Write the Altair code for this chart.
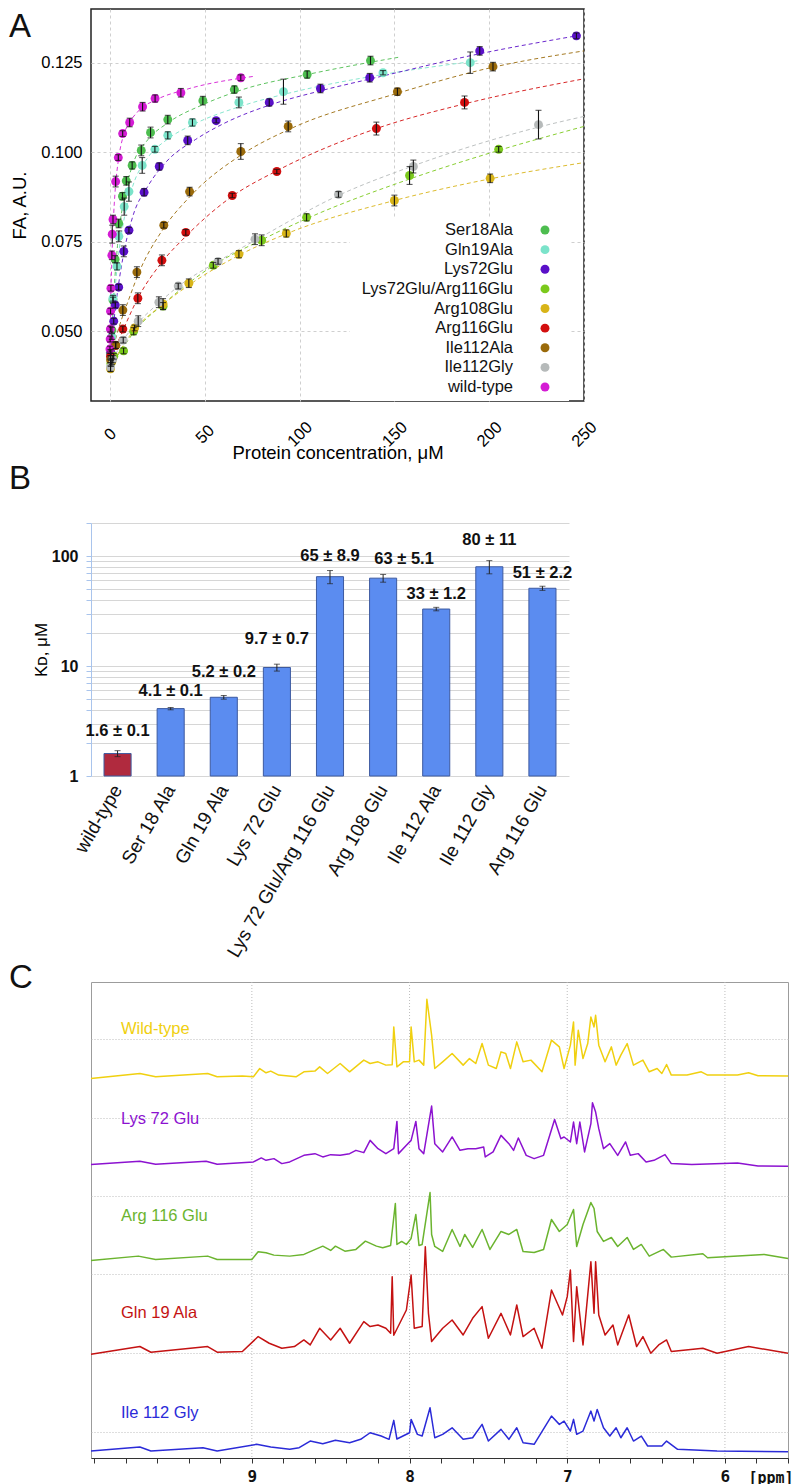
import altair as alt
import pandas as pd

FONT = "Liberation Sans"
MONO = "DejaVu Sans Mono"

# ======================= Panel A : fluorescence anisotropy titrations =======================
a_series = ["Ser18Ala", "Gln19Ala", "Lys72Glu", "Lys72Glu/Arg116Glu", "Arg108Glu",
            "Arg116Glu", "Ile112Ala", "Ile112Gly", "wild-type"]
a_colors = ["#4dbd4f", "#7be3ca", "#5a10c8", "#7bc91c", "#d8b418",
            "#d30f0f", "#9a6a0a", "#b6baba", "#d41cd4"]
a_xticks = [0, 50, 100, 150, 200, 250]
a_yticks = [0.050, 0.075, 0.100, 0.125]

# measured points: concentration (uM), FA, error
ser18ala_x = [0.2, 1.0, 1.6, 2.7, 4.6, 6.6, 8.6, 11.7, 16.5, 21.4, 30.5, 49.0, 65.6, 104.0, 137.4]
ser18ala_y = [0.0440, 0.0503, 0.0587, 0.0701, 0.0801, 0.0877, 0.0920, 0.0963, 0.1005, 0.1055, 0.1091, 0.1144, 0.1175, 0.1217, 0.1256]
ser18ala_e = [0.0008, 0.0008, 0.0008, 0.0010, 0.0012, 0.0010, 0.0012, 0.0010, 0.0015, 0.0015, 0.0012, 0.0012, 0.0010, 0.0010, 0.0012]

gln19ala_x = [0.3, 1.0, 1.6, 3.7, 4.7, 7.5, 10.0, 17.0, 23.7, 30.5, 43.5, 68.0, 91.5, 144.0, 190.0]
gln19ala_y = [0.0430, 0.0485, 0.0592, 0.0681, 0.0765, 0.0848, 0.0890, 0.0963, 0.1008, 0.1047, 0.1083, 0.1139, 0.1169, 0.1222, 0.1250]
gln19ala_e = [0.0008, 0.0008, 0.0008, 0.0010, 0.0015, 0.0024, 0.0027, 0.0022, 0.0008, 0.0010, 0.0010, 0.0015, 0.0035, 0.0006, 0.0030]

lys72glu_x = [0.5, 2.0, 2.8, 4.6, 7.3, 10.0, 18.0, 26.0, 41.0, 56.0, 84.0, 111.0, 137.0, 195.0, 246.0]
lys72glu_y = [0.0440, 0.0528, 0.0573, 0.0623, 0.0723, 0.0782, 0.0888, 0.0960, 0.1033, 0.1088, 0.1139, 0.1178, 0.1208, 0.1283, 0.1325]
lys72glu_e = [0.0008, 0.0008, 0.0008, 0.0008, 0.0015, 0.0008, 0.0010, 0.0010, 0.0012, 0.0006, 0.0010, 0.0012, 0.0012, 0.0012, 0.0008]

k72e_r116e_x = [0.5, 2.0, 7.2, 12.5, 28.0, 54.5, 80.0, 103.7, 158.0, 205.0]
k72e_r116e_y = [0.0410, 0.0430, 0.0445, 0.0500, 0.0570, 0.0684, 0.0754, 0.0818, 0.0935, 0.1008]
k72e_r116e_e = [0.0008, 0.0008, 0.0008, 0.0010, 0.0010, 0.0008, 0.0015, 0.0010, 0.0025, 0.0008]

arg108glu_x = [0.3, 1.0, 13.0, 28.0, 41.6, 68.0, 93.0, 150.0, 200.5]
arg108glu_y = [0.0395, 0.0415, 0.0509, 0.0576, 0.0634, 0.0715, 0.0773, 0.0865, 0.0927]
arg108glu_e = [0.0008, 0.0008, 0.0008, 0.0015, 0.0012, 0.0010, 0.0010, 0.0015, 0.0012]

arg116glu_x = [0.3, 3.0, 6.8, 14.7, 27.4, 40.0, 64.5, 88.0, 140.5, 187.0]
arg116glu_y = [0.0430, 0.0460, 0.0506, 0.0592, 0.0698, 0.0776, 0.0879, 0.0946, 0.1066, 0.1139]
arg116glu_e = [0.0008, 0.0008, 0.0008, 0.0015, 0.0015, 0.0008, 0.0006, 0.0006, 0.0018, 0.0018]

ile112ala_x = [0.3, 3.0, 6.8, 14.2, 28.4, 42.0, 69.0, 94.0, 151.6, 202.0]
ile112ala_y = [0.0420, 0.0461, 0.0559, 0.0665, 0.0796, 0.0890, 0.1002, 0.1072, 0.1169, 0.1239]
ile112ala_e = [0.0008, 0.0010, 0.0015, 0.0015, 0.0008, 0.0012, 0.0022, 0.0015, 0.0010, 0.0012]

ile112gly_x = [0.3, 1.5, 7.0, 14.9, 25.8, 36.0, 57.0, 76.5, 120.5, 160.0, 226.0]
ile112gly_y = [0.0400, 0.0422, 0.0475, 0.0528, 0.0581, 0.0626, 0.0695, 0.0757, 0.0882, 0.0960, 0.1077]
ile112gly_e = [0.0012, 0.0010, 0.0008, 0.0015, 0.0015, 0.0008, 0.0008, 0.0015, 0.0008, 0.0018, 0.0040]

wt_x = [0.0, 0.1, 0.2, 0.3, 0.5, 1.0, 1.2, 1.6, 3.0, 4.4, 6.7, 10.4, 17.2, 23.8, 37.4, 69.0]
wt_y = [0.0450, 0.0478, 0.0506, 0.0556, 0.0620, 0.0712, 0.0771, 0.0812, 0.0918, 0.0985, 0.1052, 0.1083, 0.1127, 0.1150, 0.1166, 0.1208]
wt_e = [0.0008, 0.0008, 0.0008, 0.0008, 0.0008, 0.0012, 0.0025, 0.0012, 0.0015, 0.0008, 0.0008, 0.0012, 0.0012, 0.0010, 0.0012, 0.0008]

# fitted (dashed) binding curves
ser18ala_fx = [0, 1, 2, 4, 7, 12, 20, 30, 50, 70, 105, 152]
ser18ala_fy = [0.042, 0.050, 0.060, 0.074, 0.086, 0.0965, 0.1035, 0.108, 0.1135, 0.1175, 0.1218, 0.1265]
gln19ala_fx = [0, 1, 2, 4, 7, 12, 20, 30, 45, 70, 100, 145, 195]
gln19ala_fy = [0.042, 0.049, 0.057, 0.069, 0.080, 0.0905, 0.0985, 0.1035, 0.108, 0.1130, 0.1172, 0.1218, 0.1256]
lys72glu_fx = [0, 3, 7, 12, 20, 30, 45, 60, 85, 110, 140, 195, 246]
lys72glu_fy = [0.042, 0.057, 0.071, 0.082, 0.0905, 0.0975, 0.1035, 0.108, 0.1133, 0.117, 0.1208, 0.1275, 0.1325]
k72e_r116e_fx = [0, 7, 13, 28, 55, 80, 104, 158, 205, 250]
k72e_r116e_fy = [0.040, 0.0455, 0.050, 0.0575, 0.0685, 0.0755, 0.0815, 0.0925, 0.1005, 0.1072]
arg108glu_fx = [0, 13, 28, 42, 68, 93, 150, 200, 250]
arg108glu_fy = [0.040, 0.0505, 0.0575, 0.063, 0.0712, 0.0772, 0.0865, 0.0925, 0.0971]
arg116glu_fx = [0, 5, 15, 27, 40, 64, 88, 140, 187, 250]
arg116glu_fy = [0.042, 0.048, 0.0595, 0.069, 0.0765, 0.0875, 0.0948, 0.1065, 0.1135, 0.1205]
ile112ala_fx = [0, 5, 10, 15, 28, 42, 70, 95, 150, 200, 250]
ile112ala_fy = [0.042, 0.0515, 0.059, 0.066, 0.0785, 0.0875, 0.0995, 0.1065, 0.1162, 0.1235, 0.1283]
ile112gly_fx = [0, 7, 15, 26, 36, 57, 77, 120, 160, 226, 250]
ile112gly_fy = [0.040, 0.0475, 0.0525, 0.058, 0.0625, 0.0695, 0.0755, 0.0878, 0.0962, 0.107, 0.110]
wt_fx = [0, 0.5, 1, 2, 3, 4.5, 7, 10, 15, 25, 40, 76]
wt_fy = [0.042, 0.060, 0.070, 0.083, 0.091, 0.098, 0.1045, 0.108, 0.1115, 0.1148, 0.1175, 0.1212]

# ======================= Panel B : dissociation constants =======================
kd_mutants = ["wild-type", "Ser 18 Ala", "Gln 19 Ala", "Lys 72 Glu", "Lys 72 Glu/Arg 116 Glu",
              "Arg 108 Glu", "Ile 112 Ala", "Ile 112 Gly", "Arg 116 Glu"]
kd_values = [1.6, 4.1, 5.2, 9.7, 65, 63, 33, 80, 51]
kd_errors = [0.1, 0.1, 0.2, 0.7, 8.9, 5.1, 1.2, 11, 2.2]
kd_text = ["1.6 \u00b1 0.1", "4.1 \u00b1 0.1", "5.2 \u00b1 0.2", "9.7 \u00b1 0.7", "65 \u00b1 8.9",
           "63 \u00b1 5.1", "33 \u00b1 1.2", "80 \u00b1 11", "51 \u00b1 2.2"]
kd_text_y = [2.57, 5.93, 8.82, 17.6, 100, 94, 45.1, 140, 70]
kd_text_dx = [0, 0, 0, 0, 0, 21, 0, 0, 0]
kd_gridvals = [1, 2, 3, 4, 5, 6, 7, 8, 9, 10, 20, 30, 40, 50, 60, 70, 80, 90, 100, 200]

# ======================= Panel C : 1H NMR spectra =======================
c_names = ["Wild-type", "Lys 72 Glu", "Arg 116 Glu", "Gln 19 Ala", "Ile 112 Gly"]
c_colors = ["#f0d010", "#8c12d0", "#6bb42f", "#c41212", "#2b2bd8"]
c_offsets = [382, 294, 199, 105, 7]
c_label_y = [430, 340, 243, 145, 45]
c_label_ppm = 9.83
c_xticks = [10.0, 9.8, 9.6, 9.4, 9.2, 9.0, 8.8, 8.6, 8.4, 8.2, 8.0, 7.8, 7.6, 7.4, 7.2,
            7.0, 6.8, 6.6, 6.4, 6.2, 6.0, 5.8, 5.6]
c_hgrid = [26, 105, 184, 263, 341, 420]
c_vgrid = [9, 8, 7, 6]

wt_ppm = [10.02, 9.71, 9.61, 9.28, 9.22, 9.06, 8.99, 8.95, 8.91, 8.88, 8.83, 8.72, 8.67, 8.60, 8.57, 8.52, 8.44, 8.38, 8.29, 8.25,
          8.20, 8.15, 8.11, 8.10, 8.08, 8.04, 8.00, 7.99, 7.97, 7.94, 7.91, 7.89, 7.86, 7.84, 7.79, 7.73, 7.66, 7.62, 7.58, 7.54,
          7.50, 7.45, 7.42, 7.39, 7.36, 7.32, 7.28, 7.23, 7.16, 7.10, 7.05, 7.02, 6.98, 6.96, 6.95, 6.93, 6.90, 6.87, 6.85, 6.83,
          6.82, 6.80, 6.76, 6.72, 6.69, 6.66, 6.62, 6.58, 6.52, 6.48, 6.43, 6.40, 6.37, 6.34, 6.24, 6.15, 6.11, 5.92, 5.85, 5.79, 5.60]
wt_int = [-1.7, 3.3, 0, 3.3, 0, 0.7, 0, 8.3, 4, 5.7, 1.7, 0, 5, 5.7, 10, 3.3, 13.3, 5, 16.7, 13.3,
          15, 11.7, 12, 50, 10, 15, 15, 50, 15, 16.7, 11.7, 77.7, 41.7, 8.3, 15, 23.3, 11.7, 18.3, 13.3, 33.3,
          11.7, 8.3, 25, 23.3, 8.3, 35, 15, 16.7, 5, 36.7, 30, 8.3, 31.7, 55, 11.7, 46.7, 18.3, 33.3, 60, 50,
          61.7, 31.7, 15, 30, 11.7, 21.7, 33.3, 11.7, 16.7, 5, 8.3, 3.3, 12.3, 1.7, 1.7, 5, 1.7, 1.7, 4, 1, 0.7]

k72_ppm = [10.02, 9.71, 9.61, 9.29, 9.22, 8.99, 8.94, 8.91, 8.86, 8.81, 8.76, 8.67, 8.60, 8.55, 8.50, 8.44, 8.38, 8.34, 8.29, 8.25,
           8.20, 8.15, 8.10, 8.08, 8.07, 8.02, 7.99, 7.96, 7.94, 7.91, 7.86, 7.84, 7.79, 7.73, 7.68, 7.63, 7.58, 7.53, 7.52, 7.47,
           7.42, 7.37, 7.34, 7.31, 7.26, 7.21, 7.15, 7.08, 7.04, 7.02, 6.98, 6.96, 6.94, 6.92, 6.89, 6.85, 6.84, 6.82, 6.80, 6.77,
           6.73, 6.68, 6.63, 6.60, 6.55, 6.50, 6.45, 6.38, 6.34, 6.21, 5.92, 5.79, 5.60]
k72_int = [0, 3.3, 0.3, 3.3, 0.3, 2.7, 6.7, 4.3, 6, 1, 2.7, 9.3, 11, 7.7, 10, 9.3, 11, 14.3, 12, 24.3,
           16, 11, 16, 43.3, 11, 19.3, 24.3, 43.3, 16, 11, 58.7, 21, 12.7, 27.7, 14.3, 16, 16, 17.7, 7.7, 12.7,
           29.3, 21, 14.3, 26.7, 9.3, 6, 9.3, 45.3, 26, 27.7, 22.7, 42.7, 21, 42.7, 12.7, 41, 62, 52.7, 36, 16,
           21, 9.3, 22.7, 9.3, 11, 2.7, 4.3, 10, 1, 0, 1.7, -1.3, -1.7]

r116_ppm = [10.02, 9.72, 9.61, 9.28, 9.22, 9.00, 8.96, 8.91, 8.86, 8.76, 8.67, 8.55, 8.50, 8.47, 8.41, 8.34, 8.28, 8.21, 8.17, 8.12,
            8.09, 8.08, 8.05, 8.02, 7.99, 7.96, 7.94, 7.92, 7.87, 7.86, 7.84, 7.79, 7.73, 7.68, 7.65, 7.60, 7.54, 7.49, 7.42, 7.37,
            7.32, 7.28, 7.21, 7.15, 7.10, 7.05, 7.00, 6.96, 6.94, 6.90, 6.85, 6.83, 6.81, 6.77, 6.72, 6.68, 6.62, 6.58, 6.53, 6.48,
            6.39, 6.34, 6.14, 6.11, 5.75, 5.60]
r116_int = [-1, 3.3, 0, 3.3, 0, 0, 7.7, 6.7, 4.3, 3.3, 5, 13.3, 9, 13.3, 8.3, 10, 18.3, 13.3, 11.7, 14,
            56, 15, 18, 15, 21, 45, 14, 15, 67, 25, 13, 8, 30, 13, 25, 12, 30, 10, 28, 25,
            30, 8, 7, 10, 40, 28, 35, 50, 13, 35, 57, 51, 28, 18, 22, 13, 22, 10, 15, 3.3,
            10, 2.3, 5.7, 1.7, 5, 1]

q19_ppm = [10.02, 9.71, 9.64, 9.28, 9.22, 9.06, 8.96, 8.89, 8.81, 8.73, 8.67, 8.63, 8.57, 8.50, 8.44, 8.38, 8.29, 8.25, 8.20, 8.15,
           8.12, 8.11, 8.10, 8.02, 7.99, 7.97, 7.92, 7.90, 7.88, 7.86, 7.79, 7.73, 7.66, 7.60, 7.54, 7.50, 7.42, 7.36, 7.32, 7.28,
           7.21, 7.16, 7.10, 7.03, 7.00, 6.98, 6.96, 6.94, 6.90, 6.85, 6.83, 6.82, 6.80, 6.76, 6.71, 6.68, 6.61, 6.56, 6.52, 6.47,
           6.42, 6.37, 6.34, 6.14, 6.05, 5.85, 5.60]
q19_int = [-1, 6.7, 1, 6.7, 1, 1.7, 16.7, 10, 5, 6.7, 13.3, 8.3, 25, 13.3, 25, 10, 31.7, 26.7, 28.3, 25,
           20, 76.7, 18, 43.3, 78.3, 25, 26.7, 106.7, 40, 11.7, 25, 33.3, 18.3, 35, 46.7, 15, 40, 18.3, 48.3, 16.7,
           25, 5, 63.3, 38.3, 56.7, 83.3, 11.7, 66.7, 8.3, 91.7, 40, 91.7, 38.3, 18.3, 28.3, 8.3, 38.3, 6.7, 16.7, 0,
           8.3, 13.3, 1.7, 5, 0, 6.7, 0]

i112g_ppm = [10.02, 9.71, 9.64, 9.31, 9.22, 8.97, 8.88, 8.76, 8.70, 8.63, 8.55, 8.47, 8.38, 8.31, 8.25, 8.18, 8.13, 8.10, 8.08, 8.00,
             7.99, 7.95, 7.92, 7.87, 7.84, 7.79, 7.73, 7.66, 7.60, 7.54, 7.50, 7.42, 7.37, 7.32, 7.28, 7.21, 7.10, 7.05, 7.02, 6.98,
             6.96, 6.94, 6.90, 6.85, 6.83, 6.81, 6.77, 6.73, 6.69, 6.66, 6.62, 6.58, 6.53, 6.49, 6.40, 6.37, 6.30, 6.05, 5.60]
i112g_int = [0, 4, 0, 3.3, 0, 6.7, 4, 1.7, 3.3, 10, 7.3, 10.7, 8.3, 11.7, 18.3, 15, 11.7, 30.7, 12, 18.3,
             31.7, 16.7, 15, 43.3, 13.3, 16.7, 23.3, 11.7, 13.3, 26.7, 10, 21.7, 11.7, 23.3, 8.3, 6.7, 35, 26.7, 30, 20,
             31.7, 16.7, 20, 40, 30, 41.7, 23.3, 15, 23.3, 13.3, 23.3, 10, 15, 5, 5, 10, 1.7, 0, -0.7]

# ======================= build tables =======================
a_pts_src = [
    ("Ser18Ala", ser18ala_x, ser18ala_y, ser18ala_e),
    ("Gln19Ala", gln19ala_x, gln19ala_y, gln19ala_e),
    ("Lys72Glu", lys72glu_x, lys72glu_y, lys72glu_e),
    ("Lys72Glu/Arg116Glu", k72e_r116e_x, k72e_r116e_y, k72e_r116e_e),
    ("Arg108Glu", arg108glu_x, arg108glu_y, arg108glu_e),
    ("Arg116Glu", arg116glu_x, arg116glu_y, arg116glu_e),
    ("Ile112Ala", ile112ala_x, ile112ala_y, ile112ala_e),
    ("Ile112Gly", ile112gly_x, ile112gly_y, ile112gly_e),
    ("wild-type", wt_x, wt_y, wt_e),
]
a_fit_src = [
    ("Ser18Ala", ser18ala_fx, ser18ala_fy),
    ("Gln19Ala", gln19ala_fx, gln19ala_fy),
    ("Lys72Glu", lys72glu_fx, lys72glu_fy),
    ("Lys72Glu/Arg116Glu", k72e_r116e_fx, k72e_r116e_fy),
    ("Arg108Glu", arg108glu_fx, arg108glu_fy),
    ("Arg116Glu", arg116glu_fx, arg116glu_fy),
    ("Ile112Ala", ile112ala_fx, ile112ala_fy),
    ("Ile112Gly", ile112gly_fx, ile112gly_fy),
    ("wild-type", wt_fx, wt_fy),
]
a_pts = pd.DataFrame([
    {"series": n, "conc": x, "fa": y, "lo": y - e, "hi": y + e}
    for n, xs, ys, es in a_pts_src for x, y, e in zip(xs, ys, es)
])
a_fit = pd.DataFrame([
    {"series": n, "conc": x, "fa": y}
    for n, xs, ys in a_fit_src for x, y in zip(xs, ys)
])
a_leg = pd.DataFrame({"series": a_series})

kd_df = pd.DataFrame({
    "mutant": kd_mutants, "kd": kd_values,
    "lo": [v - e for v, e in zip(kd_values, kd_errors)],
    "hi": [v + e for v, e in zip(kd_values, kd_errors)],
    "txt": kd_text, "ty": kd_text_y, "dx": kd_text_dx,
})

c_src = [(wt_ppm, wt_int), (k72_ppm, k72_int), (r116_ppm, r116_int), (q19_ppm, q19_int), (i112g_ppm, i112g_int)]
c_df = pd.DataFrame([
    {"name": name, "ppm": p, "inten": off + h}
    for name, off, (ps, hs) in zip(c_names, c_offsets, c_src) for p, h in zip(ps, hs)
])
c_lab = pd.DataFrame({"name": c_names, "ppm": [c_label_ppm] * len(c_names), "inten": c_label_y})

one_row = pd.DataFrame({"t": [""]})

# ======================= Panel A chart =======================
a_xscale = alt.Scale(domain=[-10, 250], nice=False, zero=False)
a_yscale = alt.Scale(domain=[0.0305, 0.14], nice=False, zero=False)
a_xaxis = alt.Axis(values=a_xticks, title="Protein concentration, \u03bcM", labelAngle=315,
                   labelAlign="center", labelBaseline="middle", labelPadding=33, ticks=False, tickSize=0,
                   grid=True, gridDash=[3, 3], gridColor="#cfcfcf", domain=False,
                   labelFontSize=16.5, titleFontSize=18.5, titleFontWeight="normal", titlePadding=-6,
                   labelFlush=False, labelOverlap=False, labelFont=FONT, titleFont=FONT)
a_yaxis = alt.Axis(values=a_yticks, format=".3f", title="FA, A.U.", ticks=False, tickSize=0,
                   grid=True, gridDash=[3, 3], gridColor="#cfcfcf", domain=False,
                   labelPadding=9, titlePadding=11, labelFontSize=16.5, titleFontSize=18.5,
                   titleFontWeight="normal", labelFlush=False, labelOverlap=False, labelFont=FONT, titleFont=FONT)
a_color = alt.Scale(domain=a_series, range=a_colors)


def ax(f):
    return alt.X(f, type="quantitative", scale=a_xscale, axis=a_xaxis)


def ay(f, show_axis=False):
    return alt.Y(f, type="quantitative", scale=a_yscale, axis=a_yaxis if show_axis else None)


# white legend box (hides the grid behind the legend, as in the original)
a_legbox = alt.Chart(one_row).mark_rect(color="white").encode(
    x=alt.value(259), x2=alt.value(478), y=alt.value(209), y2=alt.value(392))
a_fit_layer = alt.Chart(a_fit).mark_line(strokeWidth=1, strokeDash=[4, 3], opacity=0.9,
                                         interpolate="monotone").encode(
    x=ax("conc"), y=ay("fa", True),
    stroke=alt.Stroke("series:N", scale=a_color, legend=None),
)
a_pt_layer = alt.Chart(a_pts).mark_circle(size=80, opacity=1).encode(
    x=ax("conc"), y=ay("fa"),
    color=alt.Color("series:N", scale=a_color, legend=None),
)
a_err_layer = alt.Chart(a_pts).mark_rule(color="#111111", strokeWidth=1.1).encode(
    x=ax("conc"), y=ay("lo"), y2="hi:Q")
a_cap_lo = alt.Chart(a_pts).mark_tick(color="#111111", thickness=1.1, size=6, orient="horizontal").encode(
    x=ax("conc"), y=ay("lo"))
a_cap_hi = alt.Chart(a_pts).mark_tick(color="#111111", thickness=1.1, size=6, orient="horizontal").encode(
    x=ax("conc"), y=ay("hi"))

# legend: names right-aligned, coloured dot to their right
leg_y = alt.Y("series:N", sort=a_series,
              scale=alt.Scale(type="point", domain=a_series, range=[221, 378], padding=0), axis=None)
a_leg_text = alt.Chart(a_leg).mark_text(align="right", baseline="middle", fontSize=16.5, font=FONT,
                                        color="#111111").encode(
    x=alt.value(422), y=leg_y, text="series:N")
a_leg_dot = alt.Chart(a_leg).mark_circle(size=80, opacity=1).encode(
    x=alt.value(454), y=leg_y, color=alt.Color("series:N", scale=a_color, legend=None))

a_letter = alt.Chart(pd.DataFrame({"t": ["A"]})).mark_text(
    fontSize=33, align="left", baseline="top", font=FONT, color="#111111").encode(
    text="t:N", x=alt.value(-82), y=alt.value(2))

chart_a = alt.layer(a_legbox, a_fit_layer, a_pt_layer, a_err_layer, a_cap_lo, a_cap_hi,
                    a_leg_text, a_leg_dot, a_letter).resolve_scale(y="independent").properties(
    width=493, height=392, view=alt.ViewBackground(stroke="#222222", strokeWidth=1.5))

# ======================= Panel B chart =======================
b_x = alt.X("mutant:N", sort=kd_mutants,
            scale=alt.Scale(domain=kd_mutants, paddingInner=0.49, paddingOuter=0.245),
            axis=alt.Axis(title=None, labelAngle=300, labelAlign="right", labelBaseline="middle",
                          labelFontSize=19, labelFont=FONT, ticks=False, domain=False, labelPadding=10,
                          labelColor="#111111", labelLimit=400))
b_yscale = alt.Scale(type="log", domain=[1, 200], nice=False)
b_y = alt.Y("kd:Q", scale=b_yscale,
            axis=alt.Axis(values=kd_gridvals, format="d",
                          labelExpr="(datum.value == 1 || datum.value == 10 || datum.value == 100) ? datum.label : ''",
                          grid=True, gridColor="#d6d6d6", domainColor="#a9c4ec", tickColor="#a9c4ec",
                          tickSize=5, labelFontWeight="bold", labelFontSize=16, labelPadding=8,
                          labelFont=FONT, title="K\u1d05, \u03bcM", titleFontSize=17, titleFontWeight="normal",
                          titlePadding=1, titleFont=FONT, labelOverlap=False, labelFlush=False,
                          labelColor="#111111"))

b_bars = alt.Chart(kd_df).mark_bar(stroke="#3d5aa0", strokeWidth=1).encode(
    x=b_x, y=b_y, y2=alt.datum(1),
    color=alt.condition(alt.datum.mutant == "wild-type", alt.value("#b02a3e"), alt.value("#5b8cf0")),
)
b_err = alt.Chart(kd_df).mark_rule(color="#222222", strokeWidth=1).encode(
    x="mutant:N", y=alt.Y("lo:Q", scale=b_yscale), y2="hi:Q")
b_cap_lo = alt.Chart(kd_df).mark_tick(color="#222222", thickness=1, size=6).encode(
    x="mutant:N", y=alt.Y("lo:Q", scale=b_yscale))
b_cap_hi = alt.Chart(kd_df).mark_tick(color="#222222", thickness=1, size=6).encode(
    x="mutant:N", y=alt.Y("hi:Q", scale=b_yscale))
b_text_layers = [
    alt.Chart(kd_df).transform_filter(alt.datum.dx == d).mark_text(
        fontWeight="bold", fontSize=16.5, font=FONT, color="#111111", baseline="middle", dx=d).encode(
        x="mutant:N", y=alt.Y("ty:Q", scale=b_yscale), text="txt:N")
    for d in sorted(set(kd_text_dx))
]
b_letter = alt.Chart(pd.DataFrame({"t": ["B"]})).mark_text(
    fontSize=33, align="left", baseline="top", font=FONT, color="#111111").encode(
    text="t:N", x=alt.value(-82), y=alt.value(-60))

chart_b = alt.layer(b_bars, b_err, b_cap_lo, b_cap_hi, *b_text_layers, b_letter).properties(
    width=478, height=253, view=alt.ViewBackground(strokeWidth=0))

# ======================= Panel C chart =======================
c_xscale = alt.Scale(domain=[5.6, 10.02], reverse=True, nice=False, zero=False)
c_yscale = alt.Scale(domain=[0, 477], nice=False, zero=False)
c_cscale = alt.Scale(domain=c_names, range=c_colors)
c_xaxis = alt.Axis(values=c_xticks,
                   labelExpr="(datum.value < 9.5 && abs(datum.value - round(datum.value)) < 0.01) ? format(datum.value, 'd') : ''",
                   grid=False, tickSize=5, tickColor="#333333", domainColor="#333333",
                   labelFont=MONO, labelFontWeight="bold", labelFontSize=16, labelBaseline="middle",
                   labelPadding=13, labelColor="#111111", labelOverlap=False, labelFlush=False,
                   title="[ppm]", titleFont=MONO, titleFontWeight="bold", titleFontSize=15,
                   titleX=657, titleY=19, titleAlign="left", titleBaseline="middle", titleColor="#111111")
c_yaxis = alt.Axis(values=c_hgrid, grid=True, gridDash=[1, 2], gridColor="#bdbdbd", labels=False,
                   ticks=False, domain=False, title=None)

c_vrules = alt.Chart(pd.DataFrame({"ppm": c_vgrid})).mark_rule(
    strokeDash=[1, 2], color="#bdbdbd", strokeWidth=1).encode(
    x=alt.X("ppm:Q", scale=c_xscale, axis=c_xaxis))
c_lines = alt.Chart(c_df).mark_line(strokeWidth=1.5, strokeJoin="round").encode(
    x=alt.X("ppm:Q", scale=c_xscale, axis=c_xaxis),
    y=alt.Y("inten:Q", scale=c_yscale, axis=c_yaxis),
    color=alt.Color("name:N", scale=c_cscale, legend=None),
)
c_labels = alt.Chart(c_lab).mark_text(align="left", baseline="middle", fontSize=16.5, font=FONT).encode(
    x=alt.X("ppm:Q", scale=c_xscale, axis=c_xaxis),
    y=alt.Y("inten:Q", scale=c_yscale, axis=c_yaxis),
    text="name:N",
    color=alt.Color("name:N", scale=c_cscale, legend=None),
)
c_letter = alt.Chart(pd.DataFrame({"t": ["C"]})).mark_text(
    fontSize=33, align="left", baseline="top", font=FONT, color="#111111").encode(
    text="t:N", x=alt.value(-82), y=alt.value(-20))

chart_c = alt.layer(c_vrules, c_lines, c_labels, c_letter).properties(
    width=697, height=476, view=alt.ViewBackground(stroke="#9c9c9c", strokeWidth=1))

chart = (alt.vconcat(chart_a, chart_b, chart_c, spacing=0)
         .resolve_scale(color="independent", stroke="independent")
         .properties(padding=0)
         .configure(font=FONT))

chart.save("out.html", embed_options={"renderer": "svg", "actions": False})
